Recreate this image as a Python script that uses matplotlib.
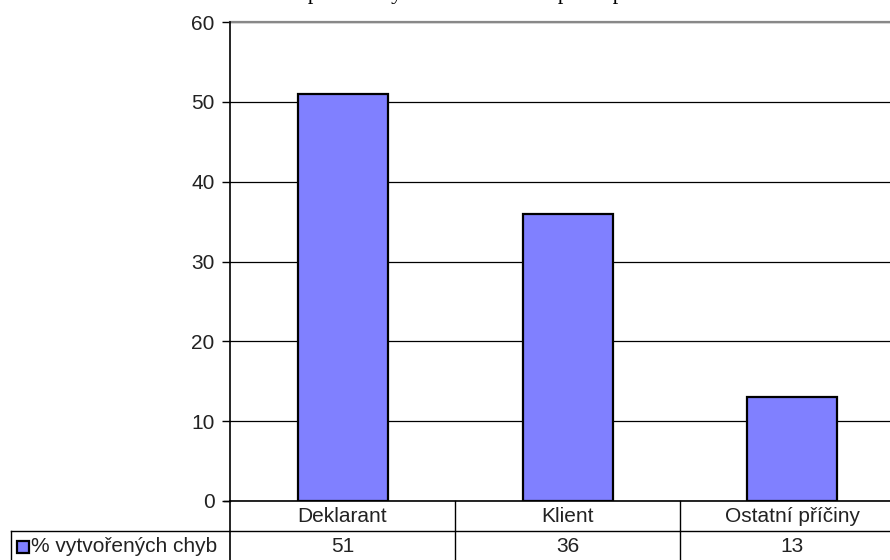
import matplotlib
matplotlib.use("Agg")
import matplotlib.pyplot as plt
from matplotlib.lines import Line2D

# Data
categories = ["Deklarant", "Klient", "Ostatní příčiny"]
values = [51, 36, 13]
series_name = "% vytvořených chyb"
title = "Srovnání podílu chyb v celním řízení podle původce"
yticks = [0, 10, 20, 30, 40, 50, 60]

W, H = 890, 560
FS = 15
fig = plt.figure(figsize=(W / 100, H / 100), dpi=100)

# plot area in pixel coordinates (right edge runs past the figure border)
px_left, px_right, px_top, px_bottom = 230, 905, 22, 501
ax = fig.add_axes([px_left / W, 1 - px_bottom / H,
                   (px_right - px_left) / W, (px_bottom - px_top) / H])

bar_color = "#8080FF"
x = list(range(len(categories)))
ax.bar(x, values, width=0.40, color=bar_color, edgecolor="black",
       linewidth=1.6, zorder=3)

ax.set_xlim(-0.5, len(categories) - 0.5)
ax.set_ylim(0, 60)
ax.set_yticks(yticks)
ax.set_yticklabels([str(t) for t in yticks], fontsize=FS,
                   family="Liberation Sans", color="#222222")
ax.tick_params(axis="y", length=6, width=1, color="black", pad=5)
ax.set_xticks([])
ax.yaxis.grid(True, color="#000000", linewidth=0.9, zorder=0)
ax.set_axisbelow(True)

for side in ["top", "right", "bottom"]:
    ax.spines[side].set_visible(False)
ax.spines["left"].set_linewidth(1.2)
ax.spines["left"].set_color("black")
ax.spines["left"].set_bounds(0, 60)

# top gridline drawn in grey
ax.axhline(60, color="#888888", linewidth=1.6, zorder=1, clip_on=False)

# ---- data table under the plot (pixel coordinates) ----
def px(xp, yp):
    return (xp / W, 1 - yp / H)

def fline(x0, y0, x1, y1, lw=1.0, color="black"):
    a, b = px(x0, y0)
    c, d = px(x1, y1)
    fig.add_artist(Line2D([a, c], [b, d], transform=fig.transFigure,
                          color=color, linewidth=lw))

row1_top, row2_top, row2_bot = 501, 531, 562
col_w = (px_right - px_left) / len(categories)
col_edges = [px_left + i * col_w for i in range(len(categories) + 1)]

# x-axis line across the table header
fline(px_left, row1_top, W, row1_top, lw=1.2)
# header/data separator, spanning the legend cell too
fline(11, row2_top, W, row2_top, lw=1.0)
# left border of legend cell
fline(11, row2_top, 11, row2_bot, lw=1.0)
# vertical column lines
for i, e in enumerate(col_edges[:-1]):
    fline(e, row1_top, e, row2_bot, lw=1.2 if i == 0 else 1.0)
# tick mark for 0 extends left of the axis
fline(224, row1_top, px_left, row1_top, lw=1.0)

for i, (cat, val) in enumerate(zip(categories, values)):
    cx = col_edges[i] + col_w / 2
    fig.text(*px(cx, 517), cat, ha="center", va="center", fontsize=FS,
             family="Liberation Sans", color="#222222")
    fig.text(*px(cx, 547), str(val), ha="center", va="center", fontsize=FS,
             family="Liberation Sans", color="#222222")

# legend key inside the row-label cell
kx, ky, ks = 17, 541, 12
fig.add_artist(plt.Rectangle(px(kx, ky + ks), ks / W, ks / H,
                             transform=fig.transFigure,
                             facecolor=bar_color, edgecolor="black",
                             linewidth=1.6))
fig.text(*px(kx + ks + 2, 547), series_name, ha="left", va="center",
         fontsize=FS, family="Liberation Sans", color="#222222")

# chart title sits above the top border
fig.text(*px(455, -0.5), title, ha="center", va="baseline",
         fontsize=16, family="Liberation Serif", color="black")

fig.savefig("out.png", dpi=100)
